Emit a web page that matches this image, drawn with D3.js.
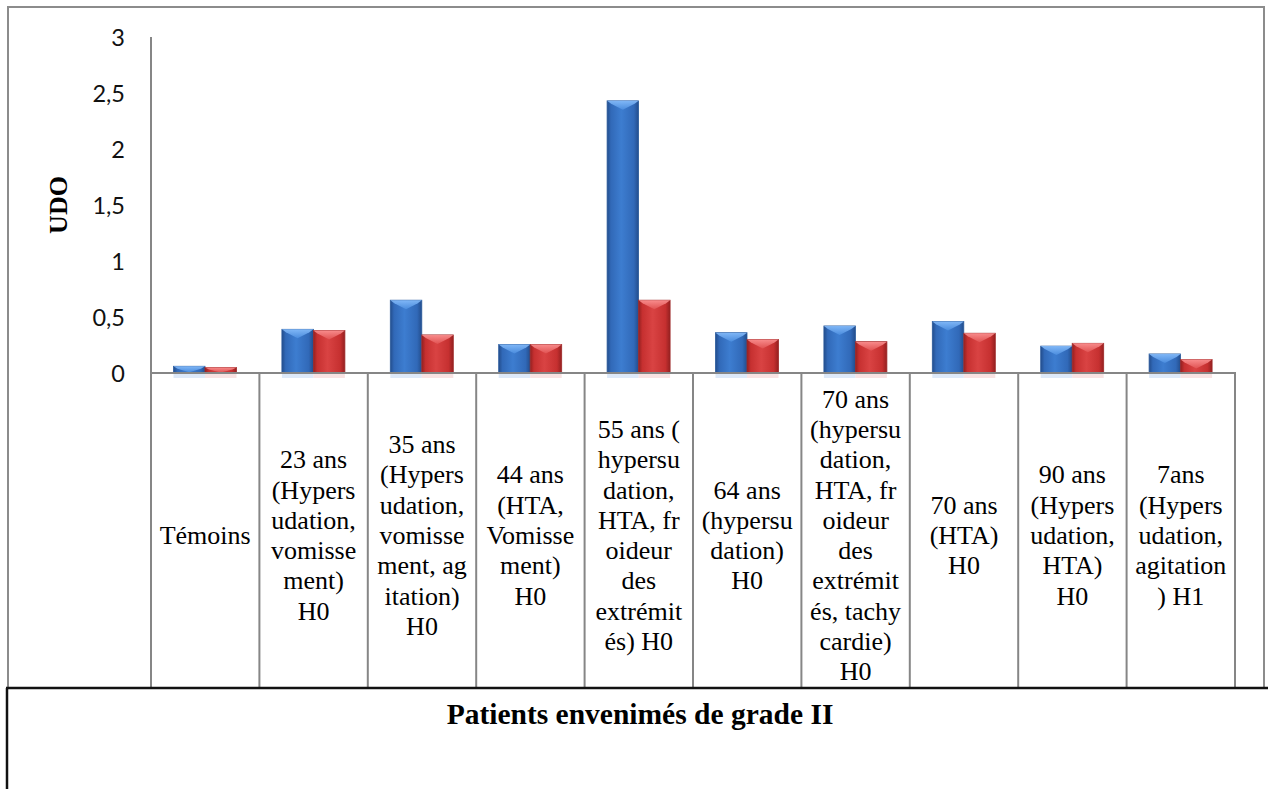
<!DOCTYPE html>
<html>
<head>
<meta charset="utf-8">
<script src="https://cdn.jsdelivr.net/npm/d3@7/dist/d3.min.js"></script>
<style>
  html, body { margin: 0; padding: 0; background: #fff; }
  svg { display: block; }
  .serif { font-family: "Liberation Serif", "Times New Roman", Times, "DejaVu Serif", serif; }
  .sans { font-family: Lato, "Open Sans", "Liberation Sans", sans-serif; }
</style>
</head>
<body>
<svg id="chart" width="1268" height="789"></svg>
<script>
// Category labels, pre-wrapped as in the table cells under the axis
const categories = [
  "Témoins",
  "23 ans\n(Hypers\nudation,\nvomisse\nment)\nH0",
  "35 ans\n(Hypers\nudation,\nvomisse\nment, ag\nitation)\nH0",
  "44 ans\n(HTA,\nVomisse\nment)\nH0",
  "55 ans (\nhypersu\ndation,\nHTA, fr\noideur\ndes\nextrémit\nés) H0",
  "64 ans\n(hypersu\ndation)\nH0",
  "70 ans\n(hypersu\ndation,\nHTA, fr\noideur\ndes\nextrémit\nés, tachy\ncardie)\nH0",
  "70 ans\n(HTA)\nH0",
  "90 ans\n(Hypers\nudation,\nHTA)\nH0",
  "7ans\n(Hypers\nudation,\nagitation\n) H1"
];

// UDO values, two measurements per patient
const seriesBlue = [0.06, 0.39, 0.65, 0.255, 2.43, 0.36, 0.42, 0.46, 0.24, 0.17];
const seriesRed  = [0.05, 0.38, 0.34, 0.255, 0.65, 0.30, 0.28, 0.355, 0.265, 0.12];

const yTicks = [0, 0.5, 1, 1.5, 2, 2.5, 3];

const axisTitle = "UDO";
const chartTitle = "Patients envenimés de grade II";

const svg = d3.select("#chart");

const plot = { left: 151, right: 1235, top: 37, base: 373, tableBottom: 688 };

const x = d3.scaleBand()
  .domain(categories.map((d, i) => i))
  .range([plot.left, plot.right])
  .paddingInner(0).paddingOuter(0);

const x1 = d3.scaleBand()
  .domain(["blue", "red"])
  .range([22.5, 85.5]);

const y = d3.scaleLinear().domain([0, 3]).range([plot.base, plot.top]);

// gradients for the bevelled bars
const defs = svg.append("defs");
function faceGradient(id, dark, mid, light) {
  const g = defs.append("linearGradient").attr("id", id)
    .attr("x1", "0").attr("x2", "1").attr("y1", "0").attr("y2", "0");
  g.append("stop").attr("offset", "0").attr("stop-color", dark);
  g.append("stop").attr("offset", "0.12").attr("stop-color", mid);
  g.append("stop").attr("offset", "0.45").attr("stop-color", light);
  g.append("stop").attr("offset", "0.85").attr("stop-color", mid);
  g.append("stop").attr("offset", "1").attr("stop-color", dark);
}
faceGradient("faceBlue", "#234d8c", "#3169b8", "#3d7dd0");
faceGradient("faceRed", "#942020", "#c63030", "#d94343");

const topGrad = (id, c1, c2) => {
  const g = defs.append("linearGradient").attr("id", id)
    .attr("x1", "0").attr("x2", "0").attr("y1", "0").attr("y2", "1");
  g.append("stop").attr("offset", "0").attr("stop-color", c1);
  g.append("stop").attr("offset", "1").attr("stop-color", c2);
};
topGrad("topBlue", "#8cc2ff", "#4d8fe0");
topGrad("topRed", "#ff9a9a", "#e25555");

// outer frame of the chart
svg.append("rect")
  .attr("x", 8).attr("y", 7)
  .attr("width", 1264 - 8).attr("height", plot.tableBottom - 7)
  .attr("fill", "none").attr("stroke", "#8c8c8c").attr("stroke-width", 2);

// y axis labels
const yAxis = d3.axisLeft(y)
  .tickValues(yTicks)
  .tickSize(0)
  .tickPadding(26)
  .tickFormat(d => String(d).replace(".", ","));

const gy = svg.append("g")
  .attr("transform", `translate(${plot.left},0)`)
  .call(yAxis);
gy.select(".domain").remove();
gy.attr("font-family", null).attr("font-size", null);
gy.selectAll("text")
  .attr("class", "sans")
  .style("font-size", "23.5px")
  .attr("fill", "#111")
  .attr("dy", "0.36em");

// y axis title
svg.append("text")
  .attr("class", "serif")
  .attr("transform", `translate(67,${y(1.5)}) rotate(-90)`)
  .attr("text-anchor", "middle")
  .style("font-weight", "bold")
  .style("font-size", "26px")
  .attr("fill", "#000")
  .text(axisTitle);

const groups = svg.append("g").selectAll("g.cat")
  .data(categories.map((c, i) => ({ i, values: [
    { key: "blue", v: seriesBlue[i] },
    { key: "red", v: seriesRed[i] }
  ] })))
  .join("g")
  .attr("class", "cat")
  .attr("transform", d => `translate(${x(d.i)},0)`);

// soft reflection below the bars
groups.selectAll("rect.glow")
  .data(d => d.values)
  .join("rect")
  .attr("class", "glow")
  .attr("x", d => x1(d.key))
  .attr("y", plot.base + 1)
  .attr("width", x1.bandwidth())
  .attr("height", 4)
  .attr("fill", d => d.key === "blue" ? "#cfe0f6" : "#f6d6d6")
  .attr("opacity", 0.7);

// bar faces
groups.selectAll("rect.face")
  .data(d => d.values)
  .join("rect")
  .attr("class", "face")
  .attr("x", d => x1(d.key))
  .attr("y", d => y(d.v))
  .attr("width", x1.bandwidth())
  .attr("height", d => plot.base - y(d.v))
  .attr("fill", d => d.key === "blue" ? "url(#faceBlue)" : "url(#faceRed)")
  .attr("stroke", d => d.key === "blue" ? "#2a5a9c" : "#9e2a2a")
  .attr("stroke-width", 0.8);

// bevelled tops
groups.selectAll("path.bevel")
  .data(d => d.values)
  .join("path")
  .attr("class", "bevel")
  .attr("d", d => {
    const x0 = x1(d.key), w = x1.bandwidth(), t = y(d.v);
    const h = Math.min(9, (plot.base - t) * 0.9);
    if (h < 1) return "";
    const hs = Math.min(3, h * 0.4);
    return `M${x0},${t}L${x0 + w},${t}L${x0 + w - 4},${t + hs}L${x0 + w / 2},${t + h}L${x0 + 4},${t + hs}Z`;
  })
  .attr("fill", d => d.key === "blue" ? "url(#topBlue)" : "url(#topRed)")
  .attr("opacity", 0.85);

// category cells: separators and the baseline
const axisColor = "#868686";
svg.append("line")
  .attr("x1", plot.left).attr("x2", plot.left)
  .attr("y1", plot.top).attr("y2", plot.tableBottom)
  .attr("stroke", axisColor).attr("stroke-width", 2);

svg.append("line")
  .attr("x1", plot.left).attr("x2", plot.right + 1)
  .attr("y1", plot.base).attr("y2", plot.base)
  .attr("stroke", axisColor).attr("stroke-width", 2);

svg.append("g").selectAll("line")
  .data(categories.map((c, i) => i + 1))
  .join("line")
  .attr("x1", i => i < categories.length ? x(i) : plot.right)
  .attr("x2", i => i < categories.length ? x(i) : plot.right)
  .attr("y1", plot.base).attr("y2", plot.tableBottom)
  .attr("stroke", axisColor).attr("stroke-width", 2);

// category labels
const lineH = 30.3, labelMid = 536;
svg.append("g").selectAll("text")
  .data(categories.map((c, i) => ({ i, lines: c.split("\n") })))
  .join("text")
  .attr("class", "serif")
  .attr("text-anchor", "middle")
  .style("font-size", "26px")
  .attr("fill", "#000")
  .each(function (d) {
    const n = d.lines.length;
    d3.select(this).selectAll("tspan")
      .data(d.lines)
      .join("tspan")
      .attr("x", x(d.i) + x.bandwidth() / 2)
      .attr("y", (l, k) => labelMid + (k - (n - 1) / 2) * lineH + 8)
      .text(l => l);
  });

// table frame below the chart
svg.append("line")
  .attr("x1", 6).attr("x2", 1268)
  .attr("y1", plot.tableBottom).attr("y2", plot.tableBottom)
  .attr("stroke", "#111").attr("stroke-width", 2.5);
svg.append("line")
  .attr("x1", 7).attr("x2", 7)
  .attr("y1", plot.tableBottom).attr("y2", 789)
  .attr("stroke", "#111").attr("stroke-width", 2.5);

// chart title
svg.append("text")
  .attr("class", "serif")
  .attr("x", 640).attr("y", 724)
  .attr("text-anchor", "middle")
  .style("font-weight", "bold")
  .style("font-size", "29.5px")
  .attr("fill", "#000")
  .text(chartTitle);
</script>
</body>
</html>
